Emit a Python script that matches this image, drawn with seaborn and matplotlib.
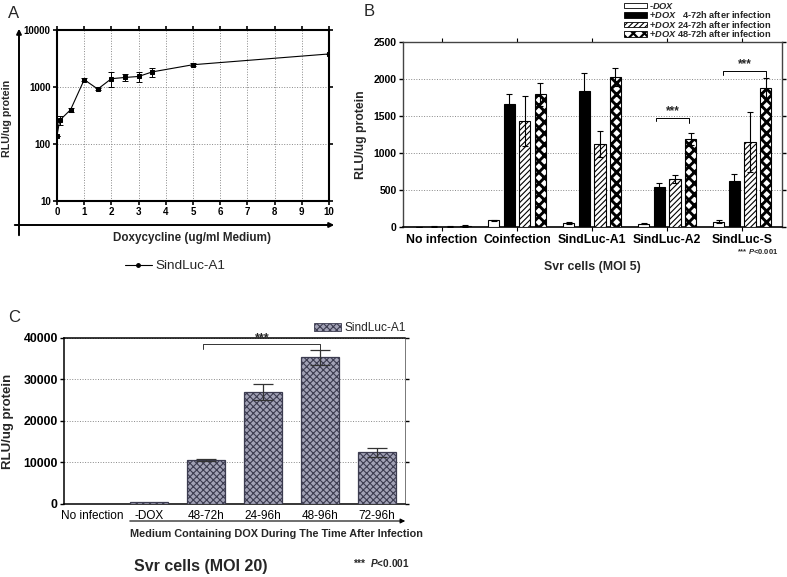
import numpy as np
import pandas as pd
import seaborn as sns
import matplotlib.pyplot as plt
from matplotlib.lines import Line2D
from matplotlib.patches import Patch
from matplotlib.ticker import NullLocator

# Panel A: dose response
dox_conc = [0, 0.1, 0.5, 1, 1.5, 2, 2.5, 3, 3.5, 5, 10]
dox_rlu = [140, 260, 400, 1345, 920, 1400, 1470, 1530, 1840, 2460, 3800]
dox_err = [0, 45, 30, 80, 50, 400, 200, 300, 350, 150, 0]

# Panel B: Svr cells (MOI 5)
b_groups = ['No infection', 'Coinfection', 'SindLuc-A1', 'SindLuc-A2', 'SindLuc-S']
b_treat = ['-DOX', '+DOX 4-72h', '+DOX 24-72h', '+DOX 48-72h']
b_minus = [5, 98, 58, 49, 75]
b_4_72 = [8, 1657, 1840, 539, 624]
b_24_72 = [8, 1436, 1122, 650, 1153]
b_48_72 = [22, 1791, 2029, 1189, 1872]
b_minus_err = [3, 7, 7, 4, 23]
b_4_72_err = [3, 140, 234, 54, 94]
b_24_72_err = [3, 337, 175, 50, 404]
b_48_72_err = [15, 157, 121, 77, 135]

# Panel C: Svr cells (MOI 20)
c_labels = ['No infection', '-DOX', '48-72h', '24-96h', '48-96h', '72-96h']
c_rlu = [0, 550, 10580, 27000, 35280, 12430]
c_err = [0, 80, 300, 1900, 1750, 1100]

sns.set_theme(style='ticks')
plt.rcParams['font.family'] = ['Liberation Sans', 'DejaVu Sans']
plt.rcParams['font.weight'] = 'bold'
plt.rcParams['mathtext.fontset'] = 'custom'
plt.rcParams['mathtext.it'] = 'Liberation Sans:italic:bold'
plt.rcParams['mathtext.rm'] = 'Liberation Sans:bold'
plt.rcParams['mathtext.bf'] = 'Liberation Sans:bold'
plt.rcParams['hatch.linewidth'] = 0.8

W, H = 787, 577
fig = plt.figure(figsize=(W / 100, H / 100), dpi=100)
fig.patch.set_facecolor('white')


def fx(px):
    return px / W


def fy(py):
    return 1 - py / H


def style_spines(ax, lw=1.2, color='black'):
    for s in ax.spines.values():
        s.set_visible(True)
        s.set_linewidth(lw)
        s.set_color(color)


def thick_hatch(patch, lw):
    if hasattr(patch, 'set_hatch_linewidth'):
        patch.set_hatch_linewidth(lw)


# ---------------- Panel A ----------------
axA = fig.add_axes([fx(57), fy(201), fx(272), 171 / H])
sns.lineplot(x=dox_conc, y=dox_rlu, ax=axA, color='black', lw=0.8,
             marker='s', markersize=3, markeredgecolor='black', legend=False)
axA.errorbar(dox_conc, dox_rlu, yerr=dox_err, fmt='none', ecolor='black',
             elinewidth=0.7, capsize=2, capthick=0.7)
axA.set_yscale('log')
axA.set_ylim(10, 10000)
axA.set_xlim(0, 10)
axA.set_xticks(range(11))
axA.set_yticks([10, 100, 1000, 10000])
axA.set_yticklabels(['10', '100', '1000', '10000'])
axA.yaxis.set_minor_locator(NullLocator())
axA.grid(True, ls=':', color='#888888', lw=0.7)
axA.tick_params(top=True, right=True, labelsize=7, length=3, width=1.2, pad=1.5, colors='black')
axA.set_xlabel('')
axA.set_ylabel('')
style_spines(axA, 1.5)

fig.text(fx(8), fy(14), 'A', fontsize=12, fontweight='normal', va='center')
fig.text(fx(7), fy(118), 'RLU/ug protein', rotation=90, fontsize=7.7, va='center', ha='center')
fig.text(fx(192), fy(238), 'Doxycycline (ug/ml Medium)', fontsize=8.4, ha='center', va='center')
fig.legend(handles=[Line2D([], [], color='black', lw=0.8, marker='o', markersize=2.5)],
           labels=['SindLuc-A1'], loc='center', bbox_to_anchor=(fx(175), fy(266)),
           frameon=False, prop={'size': 9.7, 'weight': 'normal'}, handlelength=2.0,
           handletextpad=0.3)
# outer arrow axes
axA.annotate('', xy=(fx(19), fy(26)), xytext=(fx(19), fy(238)), xycoords='figure fraction',
             textcoords='figure fraction',
             arrowprops=dict(arrowstyle='-|>', lw=1.4, color='black', mutation_scale=7))
axA.annotate('', xy=(fx(337), fy(225)), xytext=(fx(12), fy(225)), xycoords='figure fraction',
             textcoords='figure fraction',
             arrowprops=dict(arrowstyle='-|>', lw=1.4, color='black', mutation_scale=7))

# ---------------- Panel B ----------------
axB = fig.add_axes([fx(403), fy(227.3), fx(379), 185.6 / H])
dfB = pd.DataFrame({
    'group': b_groups * 4,
    'treatment': np.repeat(b_treat, len(b_groups)),
    'rlu': b_minus + b_4_72 + b_24_72 + b_48_72,
})
sns.barplot(data=dfB, x='group', y='rlu', hue='treatment', order=b_groups, hue_order=b_treat,
            ax=axB, width=0.83, gap=0.28, errorbar=None, saturation=1,
            palette=['white', 'black', 'white', 'white'], edgecolor='black',
            linewidth=0.8, legend=False, zorder=3)
b_hatches = [None, None, '//////', 'xxx']
b_hatch_lw = [0.8, 0.8, 0.8, 2.1]
b_errs = [b_minus_err, b_4_72_err, b_24_72_err, b_48_72_err]
for cont, h, hlw, errs in zip(axB.containers, b_hatches, b_hatch_lw, b_errs):
    xs, ys = [], []
    for bar in cont:
        if h:
            bar.set_hatch(h)
            thick_hatch(bar, hlw)
        xs.append(bar.get_x() + bar.get_width() / 2)
        ys.append(bar.get_height())
    axB.errorbar(xs, ys, yerr=errs, fmt='none', ecolor='black', elinewidth=0.8,
                 capsize=2, capthick=0.8, zorder=4)
axB.set_ylim(0, 2500)
axB.set_xlim(-0.52, 4.53)
axB.set_yticks(range(0, 2501, 500))
axB.yaxis.grid(True, ls=':', color='#888888', lw=0.7)
axB.set_axisbelow(True)
axB.set_xlabel('')
axB.set_ylabel('')
axB.tick_params(axis='y', labelsize=7.5, length=3, width=1, pad=1.5, right=True, colors='black')
axB.tick_params(axis='x', labelsize=8.8, length=3, width=0.8, pad=1.5, top=True, colors='black')
style_spines(axB, 1.0, '#444444')
axB.spines['bottom'].set_color('black')
axB.spines['bottom'].set_linewidth(1.2)

# significance brackets
axB.plot([2.85, 2.85, 3.29, 3.29], [1430, 1475, 1475, 1400], color='black', lw=0.7)
axB.text(3.07, 1490, '***', ha='center', va='bottom', fontsize=8.5)
axB.plot([3.75, 3.75, 4.32, 4.32], [2045, 2100, 2100, 2030], color='black', lw=0.7)
axB.text(4.03, 2115, '***', ha='center', va='bottom', fontsize=8.5)

fig.text(fx(364), fy(11), 'B', fontsize=12, fontweight='normal', va='center')
fig.text(fx(361), fy(135), 'RLU/ug protein', rotation=90, fontsize=8.8, va='center', ha='center')
fig.text(fx(592), fy(267), 'Svr cells (MOI 5)', fontsize=8.9, ha='center', va='center')
fig.text(fx(778), fy(252), r'*** $\mathit{P}$<0.001', fontsize=5.5, ha='right', va='center')

b_handles = [Patch(facecolor=c, edgecolor='black', hatch=h, lw=0.6)
             for c, h in zip(['white', 'black', 'white', 'white'], b_hatches)]
b_leg_labels = [r'-$\mathit{DOX}$',
                r'+$\mathit{DOX}$   4-72h after infection',
                r'+$\mathit{DOX}$ 24-72h after infection',
                r'+$\mathit{DOX}$ 48-72h after infection']
legB = fig.legend(handles=b_handles, labels=b_leg_labels, loc='upper left',
                  bbox_to_anchor=(fx(618), fy(-5)), frameon=False,
                  prop={'size': 6.7, 'weight': 'bold'}, handlelength=2.5, handleheight=0.5,
                  labelspacing=-0.15, handletextpad=0.2, borderpad=0.1)
thick_hatch(legB.legend_handles[3], 1.6)

# ---------------- Panel C ----------------
axC = fig.add_axes([fx(64), fy(504), fx(341), 166.3 / H])
sns.barplot(x=c_labels, y=c_rlu, ax=axC, width=0.67, errorbar=None, saturation=1,
            color='#a2a2b6', edgecolor='#3c3c50', linewidth=0.9, hatch='xxxxx', zorder=3)
cx = [bar.get_x() + bar.get_width() / 2 for bar in axC.patches]
cy = [bar.get_height() for bar in axC.patches]
axC.errorbar(cx[2:], cy[2:], yerr=c_err[2:], fmt='none', ecolor='#333333', elinewidth=0.9,
             capsize=7, capthick=0.9, zorder=4)
axC.set_ylim(0, 40000)
axC.set_xlim(-0.5, 5.5)
axC.set_yticks(range(0, 40001, 10000))
axC.yaxis.grid(True, ls=':', color='#888888', lw=0.7)
axC.set_axisbelow(True)
axC.set_xlabel('')
axC.set_ylabel('')
axC.tick_params(axis='y', labelsize=8.8, length=3, width=1, pad=1.5, right=True, colors='black')
axC.tick_params(axis='x', labelsize=8.5, length=0, pad=4, colors='black')
for lbl in axC.get_xticklabels():
    lbl.set_fontweight('normal')
style_spines(axC, 1.1)
axC.spines['right'].set_linewidth(0.7)
axC.spines['right'].set_color('#777777')

axC.plot([1.95, 1.95, 4.0, 4.0], [37300, 38500, 38500, 36300], color='#333333', lw=0.7)
axC.text(2.98, 38500, '***', ha='center', va='bottom', fontsize=9)

fig.legend(handles=[Patch(facecolor='#a2a2b6', edgecolor='#3c3c50', hatch='xxxxx', lw=0.6)],
           labels=['SindLuc-A1'], loc='center left', bbox_to_anchor=(fx(303), fy(328)),
           frameon=False, prop={'size': 8.6, 'weight': 'normal'}, handlelength=2.3,
           handleheight=0.7, handletextpad=0.3)

fig.text(fx(8), fy(318), 'C', fontsize=12, fontweight='normal', va='center')
fig.text(fx(8), fy(421), 'RLU/ug protein', rotation=90, fontsize=9.5, va='center', ha='center')
axC.annotate('', xy=(fx(408), fy(521)), xytext=(fx(127), fy(521)), xycoords='figure fraction',
             textcoords='figure fraction',
             arrowprops=dict(arrowstyle='-|>', lw=0.8, color='black', mutation_scale=7))
fig.text(fx(276), fy(534), 'Medium Containing DOX During The Time After Infection',
         fontsize=7.8, ha='center', va='center')
fig.text(fx(201), fy(567), 'Svr cells (MOI 20)', fontsize=11.5, ha='center', va='center')
fig.text(fx(409), fy(563), r'***  $\mathit{P}$<0.001', fontsize=7.2, ha='right', va='center')

fig.savefig('out.png', dpi=100, facecolor='white')
